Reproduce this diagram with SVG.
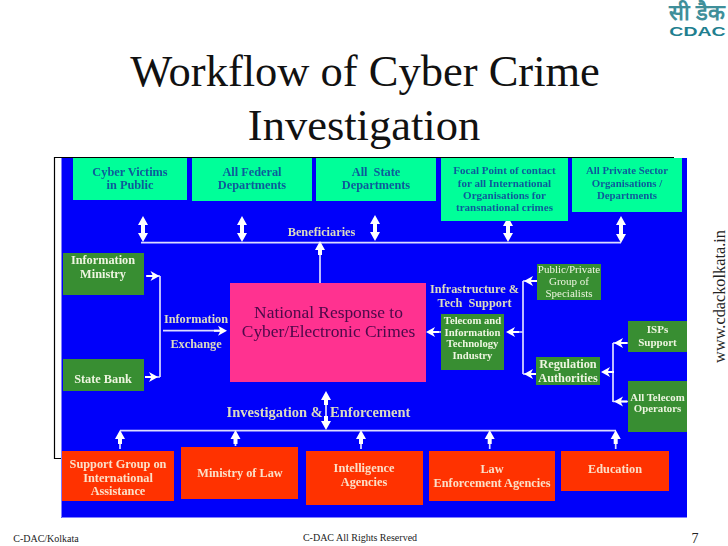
<svg xmlns="http://www.w3.org/2000/svg" width="728" height="546" viewBox="0 0 728 546">
<style>
text{font-family:"Liberation Serif","Noto Sans CJK SC",serif;text-anchor:middle}
.b{font-weight:bold;font-size:12.300px}
.m{font-size:11px}
.n{font-size:10.800px}
.t{fill:#0b5a9a}
.g{fill:#eef5e0}
.r{fill:#fbe0c8}
.l{fill:#dcdcc0}
.c{stroke:#dcdcff;stroke-width:1.700;fill:none}
.a{fill:#fff}
.tr{fill:#00ff99}
.gr{fill:#388e33}
.re{fill:#ff3300}
</style>
<defs>
<filter id="soft" x="0" y="0" width="1" height="1"><feGaussianBlur stdDeviation="0.350"/></filter>
<path id="u" d="M0 0l-5 9h3v5h4v-5h3z" class="a"/>
<path id="d" d="M0 0l-5 -9h3v-5h4v5h3z" class="a"/>
<path id="lf" d="M0 0l9 -5l-2 4h6v2h-6l2 4z" class="a"/>
<path id="rt" d="M0 0l-9 -5l2 4h-6v2h6l-2 4z" class="a"/>
</defs>
<rect width="728" height="546" fill="#fff"/>
<g id="title" fill="#111"><text x="365" y="86" font-size="44.500">Workflow of Cyber Crime</text><text x="364" y="140" font-size="44.500">Investigation</text></g>
<g id="logo"><text x="697" y="20" font-size="22" fill="#3f8f9a" font-weight="bold">सी डैक</text><text x="0" y="0" font-size="12.500" fill="#1f7f8f" font-weight="bold" transform="translate(697.500 36) scale(1.560 1)" style="font-family:'Liberation Sans',sans-serif">CDAC</text></g>
<path d="M674 157.500H54.500V458.500H62" fill="none" stroke="#000" stroke-width="1.200"/>
<g id="diagram" filter="url(#soft)">
<rect id="panel" x="61" y="158" width="626" height="360" fill="#0000fa"/>
<path d="M61.500 158V517.500H687" fill="none" stroke="#8080ff"/>
<g id="connectors">
<path class="c" d="M141 242.700H621M320 283V248M160 276V377M146 276H160M148 377H160M163 330.700H222M523 281V374M530 281H523M523 374H536M512 332H523M613 343V402M613 343H628M613 372H604M613 401.500H628M430 332H441"/>
<path class="c" d="M326 395V426M120 430.700H616M120 435V449M235.500 435V446M361 435V449M489.700 435V449M615.700 435V449"/>
<use href="#u" x="143" y="216"/><use href="#d" x="143" y="242"/>
<use href="#u" x="242" y="216"/><use href="#d" x="242" y="242"/>
<use href="#u" x="375" y="215"/><use href="#d" x="375" y="241"/>
<use href="#u" x="508" y="217"/><use href="#d" x="508" y="242"/>
<use href="#u" x="621" y="216"/><use href="#d" x="621" y="243"/>
<use href="#u" x="320" y="241"/>
<use href="#rt" x="159.500" y="276"/><use href="#rt" x="158" y="377"/>
<use href="#rt" x="227" y="330.700"/>
<use href="#lf" x="524" y="281"/><use href="#lf" x="506" y="332"/>
<use href="#lf" x="426" y="332"/>
<use href="#lf" x="524" y="374"/><use href="#lf" x="601" y="372"/>
<use href="#lf" x="614" y="343"/><use href="#lf" x="614" y="401.500"/>
<use href="#u" x="326" y="391"/><use href="#d" x="326" y="430"/>
<use href="#u" x="120" y="430"/><use href="#u" x="235.500" y="430"/><use href="#u" x="361" y="430"/><use href="#u" x="489.700" y="430"/><use href="#u" x="615.700" y="430"/>
</g>
<g id="n-victims"><rect class="tr" x="73" y="158" width="114" height="42"/><text class="b t" x="130" y="176">Cyber Victims</text><text class="b t" x="130" y="189">in Public</text></g>
<g id="n-federal"><rect class="tr" x="192" y="158" width="120" height="43"/><text class="b t" x="252" y="176">All Federal</text><text class="b t" x="252" y="189">Departments</text></g>
<g id="n-state"><rect class="tr" x="316" y="158" width="120" height="43"/><text class="b t" x="376" y="176" xml:space="preserve">All  State</text><text class="b t" x="376" y="189">Departments</text></g>
<g id="n-focal"><rect class="tr" x="441" y="158" width="127" height="63"/><text class="b m t" x="504.500" y="174">Focal Point of contact</text><text class="b m t" x="504.500" y="187">for all International</text><text class="b m t" x="504.500" y="199">Organisations for</text><text class="b m t" x="504.500" y="211">transnational crimes</text></g>
<g id="n-private"><rect class="tr" x="572" y="158" width="110" height="54"/><text class="b n t" x="627" y="174">All Private Sector</text><text class="b n t" x="627" y="187">Organisations /</text><text class="b n t" x="627" y="199">Departments</text></g>
<g id="n-info"><rect class="gr" x="63" y="253" width="81" height="42"/><text class="b g" x="103" y="264">Information</text><text class="b g" x="103" y="278">Ministry</text></g>
<g id="n-statebank"><rect class="gr" x="63" y="359" width="81" height="32"/><text class="b g" x="103" y="383">State Bank</text></g>
<g id="n-national"><rect x="230" y="283" width="196" height="99" fill="#ff3090"/><text x="328.500" y="318" font-size="17.400" fill="#4a0848">National Response to</text><text x="328.500" y="337" font-size="17.400" fill="#4a0848">Cyber/Electronic Crimes</text></g>
<g id="n-public"><rect class="gr" x="537" y="264" width="64" height="36"/><text class="g" x="569" y="273" font-size="11">Public/Private</text><text class="g" x="569" y="285" font-size="11">Group of</text><text class="g" x="569" y="297" font-size="11">Specialists</text></g>
<g id="n-telecom"><rect class="gr" x="441" y="314" width="63" height="56"/><text class="b g" x="472.500" y="324" style="font-size:10.700px">Telecom and</text><text class="b g" x="472.500" y="336" style="font-size:10.700px">Information</text><text class="b g" x="472.500" y="347" style="font-size:10.700px">Technology</text><text class="b g" x="472.500" y="359" style="font-size:10.700px">Industry</text></g>
<g id="n-isp"><rect class="gr" x="628" y="321" width="59" height="31"/><text class="b m g" x="657.500" y="333">ISPs</text><text class="b m g" x="657.500" y="346">Support</text></g>
<g id="n-reg"><rect class="gr" x="536" y="357" width="64" height="28"/><text class="b g" x="568" y="368">Regulation</text><text class="b g" x="568" y="382">Authorities</text></g>
<g id="n-alltel"><rect class="gr" x="628" y="381" width="59" height="51"/><text class="b n g" x="657.500" y="401">All Telecom</text><text class="b n g" x="657.500" y="412">Operators</text></g>
<g id="n-support"><rect class="re" x="62" y="451" width="112" height="50"/><text class="b r" x="118" y="468">Support Group on</text><text class="b r" x="118" y="482">International</text><text class="b r" x="118" y="495">Assistance</text></g>
<g id="n-law"><rect class="re" x="181" y="447" width="117" height="52"/><text class="b r" x="240" y="477">Ministry of Law</text></g>
<g id="n-intel"><rect class="re" x="306" y="451" width="117" height="54"/><text class="b r" x="364" y="472">Intelligence</text><text class="b r" x="364" y="486">Agencies</text></g>
<g id="n-lawenf"><rect class="re" x="429" y="451" width="126" height="50"/><text class="b r" x="492" y="473">Law</text><text class="b r" x="492" y="487">Enforcement Agencies</text></g>
<g id="n-edu"><rect class="re" x="561" y="451" width="108" height="40"/><text class="b r" x="615" y="473">Education</text></g>
<g id="labels">
<text class="b l" x="321.500" y="235.500">Beneficiaries</text>
<text class="b l" x="196" y="323">Information</text>
<text class="b l" x="196" y="348">Exchange</text>
<text class="b l" x="474.500" y="293">Infrastructure &amp;</text>
<text class="b l" x="474.500" y="307" xml:space="preserve">Tech  Support</text>
<text class="b l" x="318.500" y="417" style="font-size:14.500px" xml:space="preserve">Investigation &amp;  Enforcement</text>
</g>
</g>
<g id="footer" fill="#222">
<text x="46" y="542" font-size="10">C-DAC/Kolkata</text>
<text x="360" y="541" font-size="10">C-DAC All Rights Reserved</text>
<text x="695" y="543" font-size="14">7</text>
<text x="0" y="0" font-size="16.300" transform="translate(725 296.500) rotate(-90)">www.cdackolkata.in</text>
</g>
</svg>
